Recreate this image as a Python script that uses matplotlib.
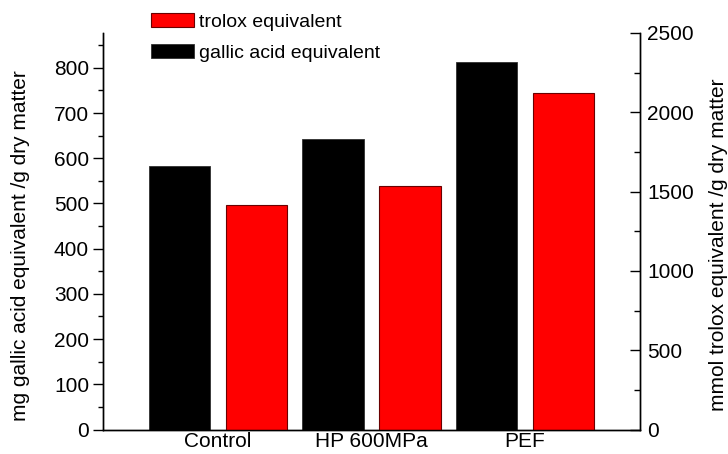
import matplotlib
matplotlib.use('Agg')
import matplotlib.pyplot as plt
from matplotlib.ticker import MultipleLocator

# 数据
categories = ['Control', 'HP 600MPa', 'PEF']
gallic = [583, 643, 812]        # mg gallic acid equivalent /g dry matter (左轴)
trolox = [1415, 1535, 2122]     # mmol trolox equivalent /g dry matter (右轴)

plt.rcParams['font.family'] = ['Liberation Sans', 'DejaVu Sans']
plt.rcParams['font.size'] = 15

fig = plt.figure(figsize=(7.28, 4.54), dpi=100)
ax = fig.add_axes([103/728, 1 - 429.5/454, (640-103)/728, (429.5-33)/454])
ax2 = ax.twinx()

x = [1, 2, 3]
w = 0.4
b1 = ax.bar([i - 0.25 for i in x], gallic, w, color='black', edgecolor='#303030', linewidth=0.6,
            label='gallic acid equivalent')
b2 = ax2.bar([i + 0.25 for i in x], trolox, w, color='#ff0000', edgecolor='#6a0000', linewidth=0.8,
             label='trolox equivalent')

ax.set_xlim(0.25, 3.75)
ax.set_ylim(0, 877)
ax2.set_ylim(0, 2500)

ax.set_xticks(x)
ax.set_xticklabels(categories)
ax.tick_params(axis='x', length=0, pad=2)

ax.yaxis.set_major_locator(MultipleLocator(100))
ax.yaxis.set_minor_locator(MultipleLocator(50))
ax.tick_params(axis='y', which='major', direction='out', length=7, width=1, pad=3)
ax.tick_params(axis='y', which='minor', direction='out', length=3.5, width=1)

ax2.yaxis.set_major_locator(MultipleLocator(500))
ax2.yaxis.set_minor_locator(MultipleLocator(250))
ax2.tick_params(axis='y', which='major', direction='in', length=7, width=1, pad=5)
ax2.tick_params(axis='y', which='minor', direction='in', length=4, width=1)

for a in (ax, ax2):
    a.spines['top'].set_visible(False)
    for s in ('left', 'right', 'bottom'):
        a.spines[s].set_linewidth(1)

ax.set_ylabel('mg gallic acid equivalent /g dry matter', labelpad=17)
ax2.set_ylabel('mmol trolox equivalent /g dry matter', labelpad=11)
ax.yaxis.label.set_y(0.465)
ax2.yaxis.label.set_y(0.465)

fig.legend(handles=[b2, b1], labels=['trolox equivalent', 'gallic acid equivalent'],
           loc='upper left', bbox_to_anchor=(151/728, 1 - 13/454), frameon=False,
           fontsize=14, borderpad=0, borderaxespad=0, handlelength=2.2, handleheight=0.77,
           handletextpad=0.26, labelspacing=0.65)

fig.savefig('out.png', dpi=100)
